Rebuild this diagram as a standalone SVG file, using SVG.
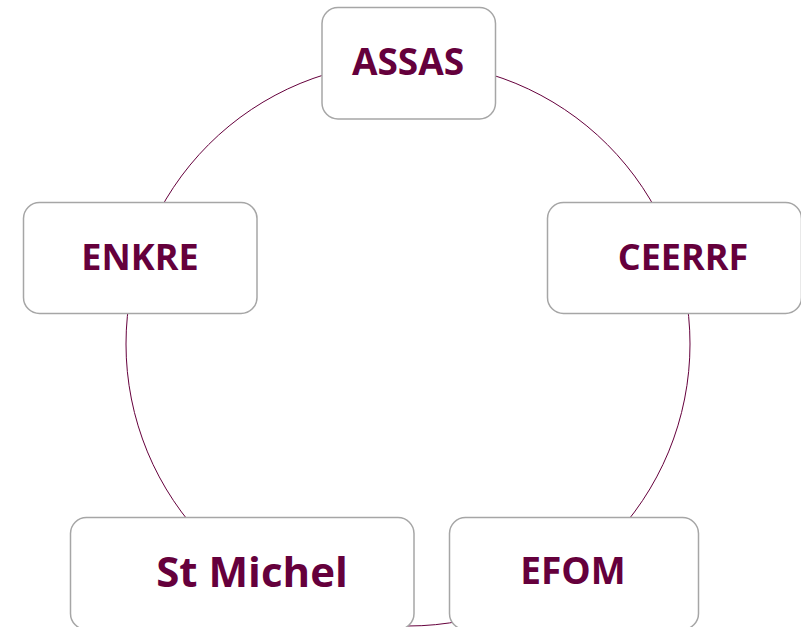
<svg xmlns="http://www.w3.org/2000/svg" width="801" height="627" viewBox="0 0 801 627">
<style>
.box{fill:#ffffff;stroke:#a6a6a6;stroke-width:1.5}
.lbl{font-family:"Open Sans","Noto Sans","Liberation Sans",sans-serif;font-weight:700;fill:#65003c;text-anchor:middle}
.arc{fill:none;stroke:#65003c;stroke-width:1}
</style>
<rect width="801" height="627" fill="#ffffff"/>
<g id="connectors">
<circle class="arc" cx="408" cy="344" r="282"/>
</g>
<g id="node-assas">
<rect class="box" x="322" y="7.5" width="173.5" height="111.5" rx="16"/>
<text class="lbl" x="408" y="75" font-size="37">ASSAS</text>
</g>
<g id="node-enkre">
<rect class="box" x="23.5" y="202.5" width="233.5" height="111" rx="16"/>
<text class="lbl" x="140" y="270" font-size="36">ENKRE</text>
</g>
<g id="node-ceerrf">
<rect class="box" x="547.5" y="202.5" width="254" height="111" rx="16"/>
<text class="lbl" x="683" y="270" font-size="36">CEERRF</text>
</g>
<g id="node-stmichel">
<rect class="box" x="70.5" y="517.5" width="343.5" height="112" rx="16"/>
<text class="lbl" x="252" y="587" font-size="42">St Michel</text>
</g>
<g id="node-efom">
<rect class="box" x="449.5" y="517.5" width="249" height="112" rx="16"/>
<text class="lbl" x="573" y="584" font-size="37">EFOM</text>
</g>
</svg>
